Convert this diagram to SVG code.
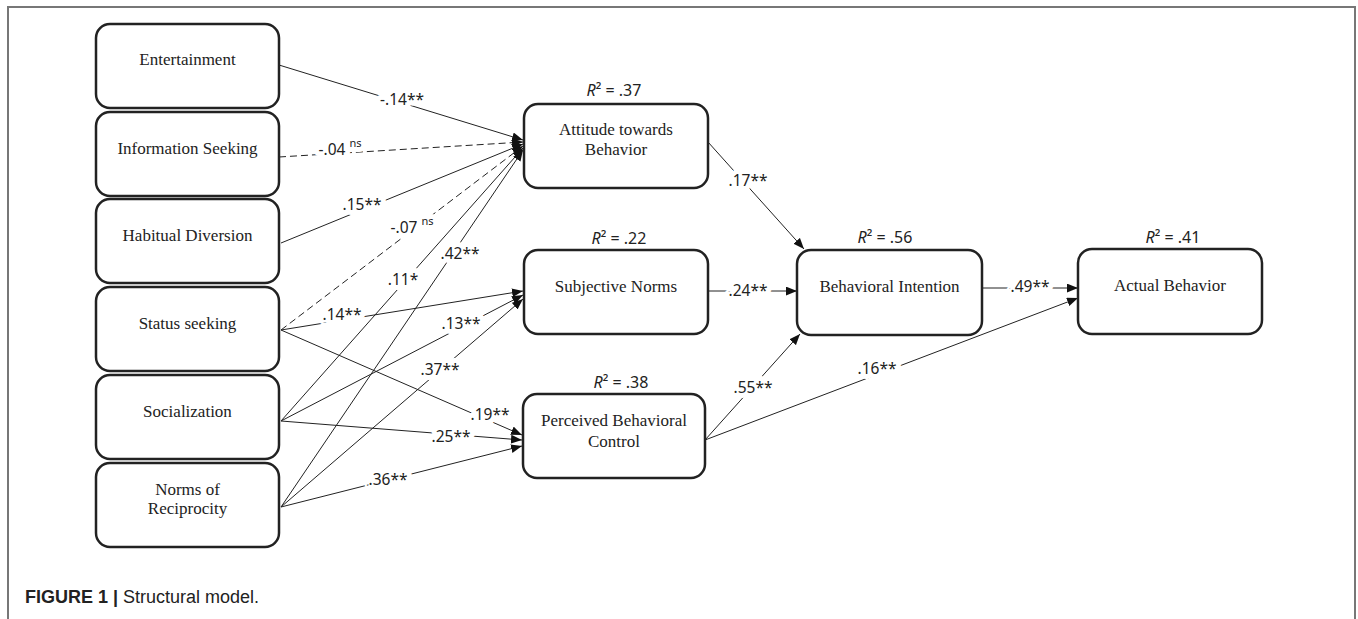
<svg xmlns="http://www.w3.org/2000/svg" width="1358" height="619" viewBox="0 0 1358 619">
<defs>
<style>
.box{fill:#fff;stroke:#222;stroke-width:2.5}
.bt{font-family:"Liberation Serif","Times New Roman",serif;font-size:17px;fill:#222;text-anchor:middle}
.r2{font-family:"Noto Sans","Liberation Sans",sans-serif;font-size:16px;fill:#222;text-anchor:middle}
.ln{stroke:#222;stroke-width:1;fill:none}
.ar{marker-end:url(#ah)}
.ds{stroke-dasharray:7,4}
.lb{font-family:"Noto Sans","Liberation Sans",sans-serif;font-size:15.5px;fill:#222;text-anchor:middle;stroke:#fff;stroke-width:10;paint-order:stroke;stroke-linejoin:round}
.ns{font-size:11px}
.cap{font-family:"Liberation Sans",Arial,sans-serif;font-size:18px;fill:#222}
</style>
<marker id="ah" viewBox="0 0 10 8" refX="10" refY="4" markerWidth="11" markerHeight="9" markerUnits="userSpaceOnUse" orient="auto">
<path d="M0,0 L10,4 L0,8 Z" fill="#111"/>
</marker>
</defs>
<rect width="1358" height="619" fill="#fff"/>
<path d="M8,619 V7 H1355 V619" fill="none" stroke="#777" stroke-width="2"/>

<g id="connectors">
<line class="ln ar" x1="279" y1="65" x2="523" y2="140"/>
<line class="ln ar ds" x1="279" y1="157" x2="523" y2="142"/>
<line class="ln ar" x1="281" y1="243" x2="523" y2="144"/>
<line class="ln ar ds" x1="281" y1="330" x2="523" y2="146"/>
<line class="ln ar" x1="281" y1="421" x2="523" y2="148"/>
<line class="ln ar" x1="281" y1="507" x2="523" y2="150"/>
<line class="ln ar" x1="281" y1="330" x2="523" y2="291"/>
<line class="ln ar" x1="281" y1="421" x2="523" y2="295"/>
<line class="ln ar" x1="281" y1="507" x2="523" y2="299"/>
<line class="ln ar" x1="281" y1="330" x2="522" y2="435"/>
<line class="ln ar" x1="281" y1="421" x2="522" y2="440"/>
<line class="ln ar" x1="281" y1="507" x2="522" y2="446"/>
<line class="ln ar" x1="708" y1="142" x2="804" y2="249"/>
<line class="ln ar" x1="708" y1="291" x2="797" y2="291"/>
<line class="ln ar" x1="705" y1="440" x2="800" y2="334"/>
<line class="ln ar" x1="705" y1="440" x2="1078" y2="298"/>
<line class="ln ar" x1="982" y1="288" x2="1078" y2="288"/>

<text class="lb" x="402" y="105">-.14**</text>
<text class="lb" x="340" y="155">-.04 <tspan class="ns" dy="-8">ns</tspan></text>
<text class="lb" x="362" y="210">.15**</text>
<text class="lb" x="412" y="233">-.07 <tspan class="ns" dy="-8">ns</tspan></text>
<text class="lb" x="460" y="259">.42**</text>
<text class="lb" x="403" y="285">.11*</text>
<text class="lb" x="342" y="320">.14**</text>
<text class="lb" x="461" y="329">.13**</text>
<text class="lb" x="440" y="375">.37**</text>
<text class="lb" x="490" y="420">.19**</text>
<text class="lb" x="451" y="442">.25**</text>
<text class="lb" x="388" y="485">.36**</text>
<text class="lb" x="748" y="186">.17**</text>
<text class="lb" x="748" y="296">.24**</text>
<text class="lb" x="753" y="393">.55**</text>
<text class="lb" x="877" y="374">.16**</text>
<text class="lb" x="1030" y="292">.49**</text>
</g>

<g id="n-entertainment"><rect class="box" x="96" y="24" width="183" height="84" rx="14"/><text class="bt" x="187.5" y="65">Entertainment</text></g>
<g id="n-information"><rect class="box" x="96" y="112" width="183" height="84" rx="14"/><text class="bt" x="187.5" y="154">Information Seeking</text></g>
<g id="n-habitual"><rect class="box" x="96" y="199" width="183" height="84" rx="14"/><text class="bt" x="187.5" y="241">Habitual Diversion</text></g>
<g id="n-status"><rect class="box" x="96" y="287" width="183" height="84" rx="14"/><text class="bt" x="187.5" y="329">Status seeking</text></g>
<g id="n-socialization"><rect class="box" x="96" y="375" width="183" height="84" rx="14"/><text class="bt" x="187.5" y="417">Socialization</text></g>
<g id="n-norms"><rect class="box" x="96" y="463" width="183" height="84" rx="14"/><text class="bt" x="187.5" y="495">Norms of</text><text class="bt" x="187.5" y="514">Reciprocity</text></g>

<g id="n-attitude"><text class="r2" x="614" y="96"><tspan font-style="italic">R</tspan>² = .37</text><rect class="box" x="524" y="104" width="184" height="84" rx="14"/><text class="bt" x="616" y="135">Attitude towards</text><text class="bt" x="616" y="155">Behavior</text></g>
<g id="n-subjective"><text class="r2" x="619" y="244"><tspan font-style="italic">R</tspan>² = .22</text><rect class="box" x="524" y="250" width="184" height="84" rx="14"/><text class="bt" x="616" y="292">Subjective Norms</text></g>
<g id="n-pbc"><text class="r2" x="621" y="388"><tspan font-style="italic">R</tspan>² = .38</text><rect class="box" x="523" y="394" width="182" height="84" rx="14"/><text class="bt" x="614" y="426">Perceived Behavioral</text><text class="bt" x="614" y="447">Control</text></g>
<g id="n-intention"><text class="r2" x="885" y="243"><tspan font-style="italic">R</tspan>² = .56</text><rect class="box" x="797" y="250" width="185" height="85" rx="14"/><text class="bt" x="889.5" y="292">Behavioral Intention</text></g>
<g id="n-actual"><text class="r2" x="1173" y="243"><tspan font-style="italic">R</tspan>² = .41</text><rect class="box" x="1078" y="249" width="184" height="85" rx="14"/><text class="bt" x="1170" y="291">Actual Behavior</text></g>

<text class="cap" x="25" y="603"><tspan font-weight="bold">FIGURE 1 |</tspan> Structural model.</text>
</svg>
